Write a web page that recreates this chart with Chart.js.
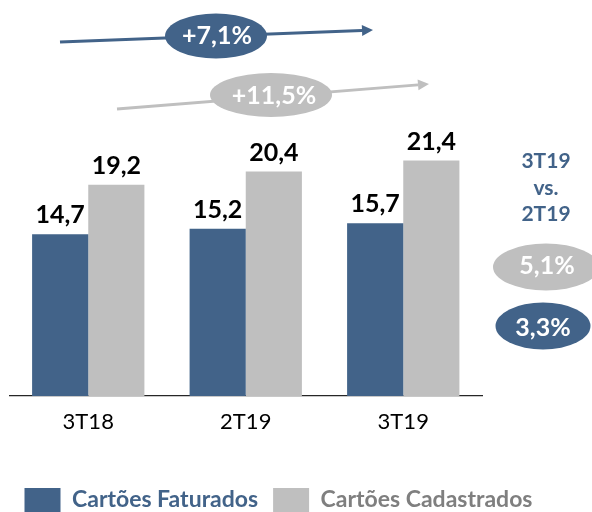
<!DOCTYPE html>
<html>
<head>
<meta charset="utf-8">
<script src="https://cdn.jsdelivr.net/npm/chart.js@4/dist/chart.umd.min.js"></script>
<style>
  html, body { margin: 0; padding: 0; background: #fff; }
</style>
</head>
<body>
<canvas id="dvCanvas" width="592" height="512"></canvas>
<script>
  // chart data
  var categories = ['3T18', '2T19', '3T19'];
  var faturados = [14.7, 15.2, 15.7];
  var cadastrados = [19.2, 20.4, 21.4];
  var seriesNames = ['Cartões Faturados', 'Cartões Cadastrados'];
  var growthLabels = ['+7,1%', '+11,5%'];
  var quarterGrowth = ['5,1%', '3,3%'];
  var compareTitle = ['3T19', 'vs.', '2T19'];

  var BLUE = '#426389';
  var GRAY = '#bfbfbf';
  var FONT = 'Lato, "Open Sans", sans-serif';

  function fmt(v) {
    return v.toFixed(1).replace('.', ',');
  }

  // value labels above each bar
  var valueLabels = {
    id: 'valueLabels',
    afterDatasetsDraw: function(chart) {
      var ctx = chart.ctx;
      ctx.save();
      ctx.font = 'bold 25px ' + FONT;
      ctx.fillStyle = '#000';
      ctx.textAlign = 'center';
      ctx.textBaseline = 'alphabetic';
      chart.data.datasets.forEach(function(ds, i) {
        chart.getDatasetMeta(i).data.forEach(function(bar, j) {
          ctx.fillText(fmt(ds.data[j]), bar.x, bar.y - 11);
        });
      });
      ctx.restore();
    }
  };

  function arrow(ctx, x1, y1, x2, y2, color) {
    var a = Math.atan2(y2 - y1, x2 - x1);
    var len = 11, half = 5.5;
    ctx.strokeStyle = color;
    ctx.fillStyle = color;
    ctx.lineWidth = 3;
    ctx.beginPath();
    ctx.moveTo(x1, y1);
    ctx.lineTo(x2 - len * Math.cos(a), y2 - len * Math.sin(a));
    ctx.stroke();
    ctx.beginPath();
    ctx.moveTo(x2, y2);
    ctx.lineTo(x2 - len * Math.cos(a) + half * Math.sin(a), y2 - len * Math.sin(a) - half * Math.cos(a));
    ctx.lineTo(x2 - len * Math.cos(a) - half * Math.sin(a), y2 - len * Math.sin(a) + half * Math.cos(a));
    ctx.closePath();
    ctx.fill();
  }

  function pill(ctx, cx, cy, rx, ry, color, text, size, tx, ty) {
    ctx.fillStyle = color;
    ctx.beginPath();
    ctx.ellipse(cx, cy, rx, ry, 0, 0, Math.PI * 2);
    ctx.fill();
    ctx.fillStyle = '#fff';
    ctx.font = 'bold ' + size + 'px ' + FONT;
    ctx.textAlign = 'center';
    ctx.textBaseline = 'alphabetic';
    ctx.fillText(text, tx, ty);
  }

  // growth arrows and the comparison notes on the right
  var notes = {
    id: 'notes',
    afterDraw: function(chart) {
      var ctx = chart.ctx;
      ctx.save();
      arrow(ctx, 60, 42, 373, 30, BLUE);
      pill(ctx, 216, 36, 51, 22.5, BLUE, growthLabels[0], 25, 217, 44);
      arrow(ctx, 117, 109, 429, 84, GRAY);
      pill(ctx, 271, 95, 61, 22, GRAY, growthLabels[1], 25, 274, 104);

      ctx.fillStyle = BLUE;
      ctx.font = 'bold 21px ' + FONT;
      ctx.textAlign = 'center';
      compareTitle.forEach(function(t, i) {
        ctx.fillText(t, 546, 168 + i * 26.5);
      });
      pill(ctx, 546, 267, 53, 23.5, GRAY, quarterGrowth[0], 25, 547, 274);
      pill(ctx, 543, 326, 47.5, 23.5, BLUE, quarterGrowth[1], 25, 543, 336);
      ctx.restore();
    }
  };

  var legendColors = [BLUE, '#7f7f7f'];

  var ctx = document.getElementById('dvCanvas').getContext('2d');
  var myChart = new Chart(ctx, {
    type: 'bar',
    data: {
      labels: categories,
      datasets: [
        {
          label: seriesNames[0],
          data: faturados,
          backgroundColor: BLUE,
          categoryPercentage: 0.713,
          barPercentage: 1
        },
        {
          label: seriesNames[1],
          data: cadastrados,
          backgroundColor: GRAY,
          categoryPercentage: 0.713,
          barPercentage: 1
        }
      ]
    },
    options: {
      responsive: false,
      animation: false,
      layout: {
        padding: { left: 9.5, right: 0, top: 121, bottom: -10 }
      },
      scales: {
        x: {
          grid: { display: false, drawTicks: false },
          border: { display: true, color: '#262626', width: 1.2 },
          ticks: {
            color: '#000',
            padding: 13,
            font: { family: FONT, size: 22 }
          },
          afterFit: function(scale) { scale.height = 77; }
        },
        y: {
          position: 'right',
          min: 0,
          max: 25,
          grid: { display: false },
          border: { display: false },
          ticks: { display: false },
          afterFit: function(scale) { scale.width = 110; }
        }
      },
      plugins: {
        tooltip: { enabled: false },
        legend: {
          position: 'bottom',
          align: 'start',
          labels: {
            boxWidth: 36,
            boxHeight: 24,
            padding: 15,
            font: { family: FONT, size: 23, weight: 'bold' },
            generateLabels: function(chart) {
              return chart.data.datasets.map(function(ds, i) {
                return {
                  text: ds.label,
                  fillStyle: ds.backgroundColor,
                  strokeStyle: ds.backgroundColor,
                  lineWidth: 0,
                  fontColor: legendColors[i],
                  datasetIndex: i,
                  hidden: false
                };
              });
            }
          }
        }
      }
    },
    plugins: [valueLabels, notes]
  });
</script>
</body>
</html>
